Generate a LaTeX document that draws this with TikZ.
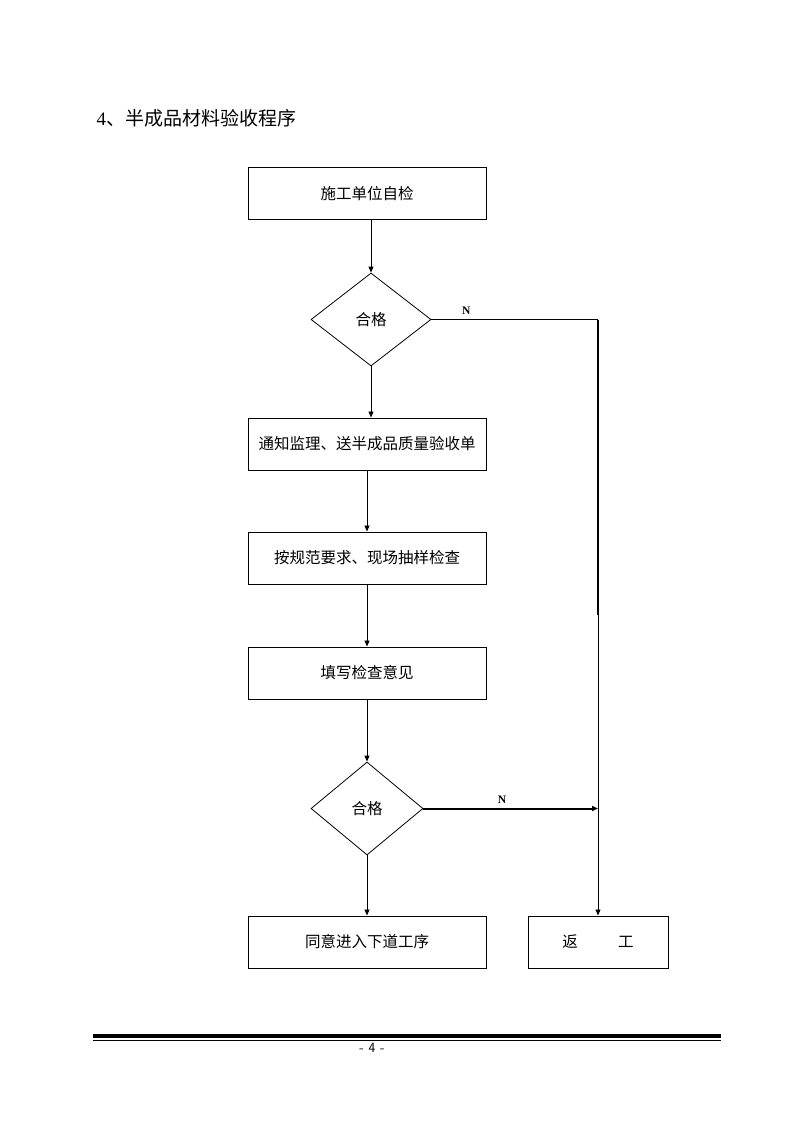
\documentclass[tikz,border=0pt]{standalone}
\usepackage{fontspec}
\setmainfont{Liberation Serif}
\newfontfamily\cjk{Noto Sans CJK SC}
\usetikzlibrary{positioning, shapes.geometric, arrows.meta}
\tikzset{
	procbox/.style={
		draw,
		line width=1pt,
		align = center,
		minimum width=238pt,
		minimum height=52pt,
		inner sep=0pt,
		font={\cjk\fontsize{15.5}{18}\selectfont}
	},
	check/.style={
		draw,
		diamond,
		line width=0.8pt,
		inner sep=0pt,
		aspect=1.3,
		font={\cjk\fontsize{15.5}{18}\selectfont}
	},
	flow/.style={
		line width=0.9pt,
		-{Triangle[length=6pt,width=5pt]}
	},
	nlabel/.style={
		font={\bfseries\fontsize{11.5}{13}\selectfont}
	}
}
\begin{document}
\begin{tikzpicture}[x=1pt, y=-1pt]
		\useasboundingbox (0,0) rectangle (794,1123);

		\node(title)[anchor=west, font={\fontsize{19}{22}\selectfont}] at (93,118) {4{\cjk 、半成品材料验收程序}};

		\node(selfcheck)[procbox] at (367,194) {施工单位自检};
		\node(ok1)[check, minimum width=120pt, minimum height=93pt] at (371,319.5) {合格};
		\node(notify)[procbox] at (367,444) {通知监理、送半成品质量验收单};
		\node(sample)[procbox] at (367,558) {按规范要求、现场抽样检查};
		\node(opinion)[procbox] at (367,673) {填写检查意见};
		\node(ok2)[check, minimum width=112pt, minimum height=93pt] at (367,808.5) {合格};
		\node(next)[procbox] at (367,942) {同意进入下道工序};
		\node(rework)[procbox, minimum width=140pt] at (598,942) {返\hspace{2.6em}工};

		\draw[flow] (selfcheck.south -| ok1.north) -- (ok1.north);
		\draw[flow] (ok1.south) -- (ok1.south |- notify.north);
		\draw[flow] (notify) -- (sample);
		\draw[flow] (sample) -- (opinion);
		\draw[flow] (opinion) -- (ok2);
		\draw[flow] (ok2) -- (next);

		% N branch from the first check
		\coordinate(corner) at (598,319.5);
		\coordinate(thin) at (598,615);
		\draw[line width=0.9pt] (ok1.east) -- node[nlabel, above=1pt, pos=0.21] {N} (corner);
		\draw[line width=1.8pt] (corner) -- (thin);
		\draw[flow] (thin) -- (rework.north);

		% N branch from the second check
		\coordinate(join) at (598,808.5);
		\draw[flow, line width=2pt] (ok2.east) -- node[nlabel, above=1pt, pos=0.45] {N} (join);

		% footer
		\coordinate(footl) at (93,1036);
		\coordinate(footr) at (721,1036);
		\draw[line width=3.5pt] (footl) -- (footr);
		\draw[line width=0.9pt] ([yshift=-4.5pt]footl) -- ([yshift=-4.5pt]footr);
		\node(page)[font={\sffamily\fontsize{14}{16}\selectfont}] at (372,1048) {- 4 -};
\end{tikzpicture}
\end{document}
